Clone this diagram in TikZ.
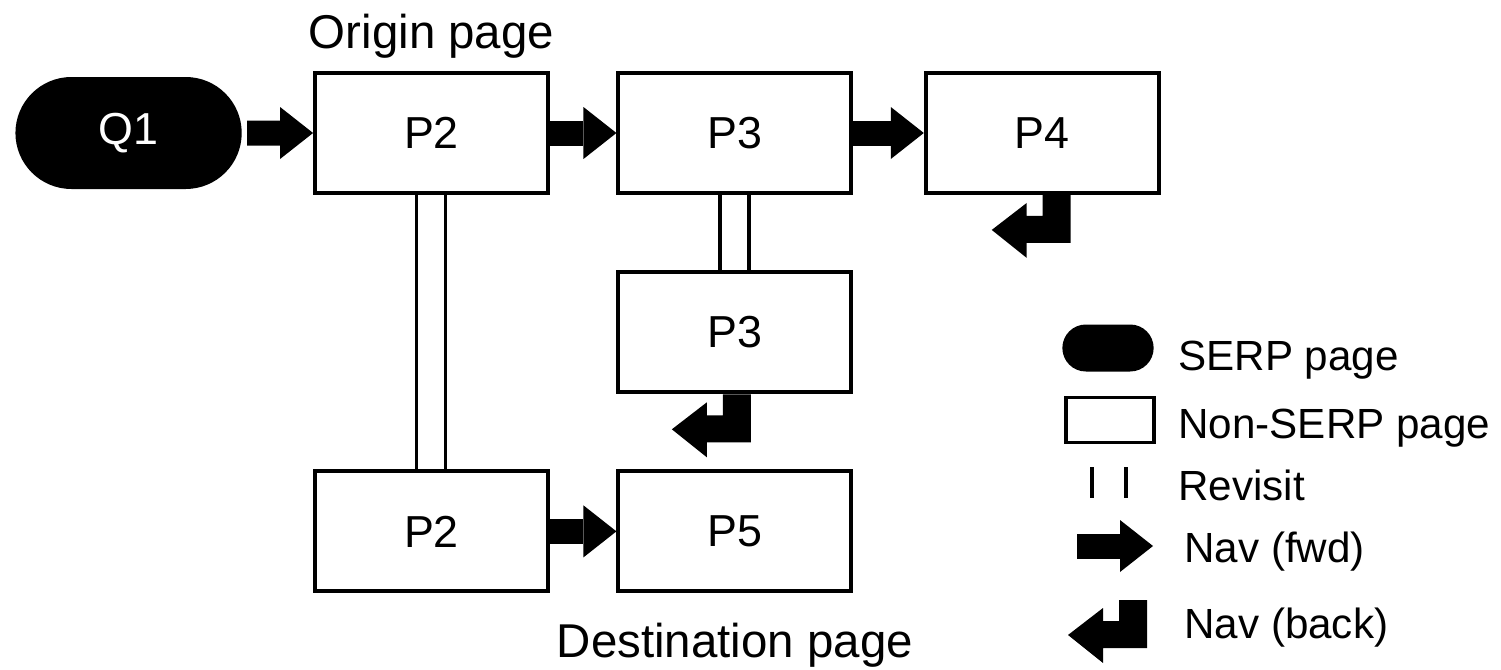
\documentclass[tikz,border=0pt]{standalone}
\usepackage{fontspec}
\setmainfont{Liberation Sans}
\usetikzlibrary{arrows.meta,positioning,shapes.misc}
% bent "back" arrow hanging from a point (top right corner of its stem)
\newcommand{\navback}[1]{\fill (#1) -- ++(0,-0.96) -- ++(-0.88,0) -- ++(0,-0.30) -- ++(-0.70,0.56)
  -- ++(0.70,0.54) -- ++(0,-0.26) -- ++(0.32,0) -- ++(0,0.42) -- cycle;}

\begin{document}
\begin{tikzpicture}[
  page/.style={draw,line width=2.2pt,minimum width=4.66cm,minimum height=2.4cm,
    font=\fontsize{25.5}{30}\selectfont},
  serp/.style={rounded rectangle,fill=black,text=white,minimum width=4.76cm,
    minimum height=2.24cm,font=\fontsize{25.5}{30}\selectfont},
  fwd/.style={line width=0.5cm,-{Triangle[length=0.66cm,width=1.04cm,line width=0pt]}},
  revisit/.style={line width=2.2pt},
  tag/.style={inner sep=0pt,font=\fontsize{27}{32}\selectfont},
  legend/.style={anchor=base west,inner sep=0pt,font=\fontsize{24}{28}\selectfont}]
  \useasboundingbox (0,0) rectangle (30.02,13.38);
  % pages of the session
  \node[page] (P2) at (8.63,10.72) {P2};
  \node[serp,left=1.42cm of P2] (Q1) {Q1};
  \node[page,right=1.33cm of P2] (P3) {P3};
  \node[page,right=1.41cm of P3] (P4) {P4};
  \node[page,below=1.51cm of P3] (P3b) {P3};
  \node[page,below=5.49cm of P2] (P2b) {P2};
  \node[page,right=1.33cm of P2b] (P5) {P5};
  % origin / destination
  \node[tag,above=0.24cm of P2] (orig) {Origin page};
  \node[tag,below=0.58cm of P5] (dest) {Destination page};
  % forward navigation
  \draw[fwd,shorten <=0.1cm] (Q1) -- (P2);
  \draw[fwd] (P2) -- (P3);
  \draw[fwd] (P3) -- (P4);
  \draw[fwd] (P2b) -- (P5);
  % revisits
  \foreach \dx in {-0.3,0.28} {
    \draw[revisit] ([xshift=\dx cm]P2.south) -- ([xshift=\dx cm]P2b.north);
    \draw[revisit] ([xshift=\dx cm]P3.south) -- ([xshift=\dx cm]P3b.north);
  }
  % back navigation
  \navback{[xshift=0.57cm]P4.south}
  \navback{[xshift=0.32cm]P3b.south}
  % legend
  \node[rounded rectangle,fill=black,minimum width=2.06cm,minimum height=0.94cm] (kserp) at (22.16,6.42) {};
  \node[draw,line width=2.2pt,minimum width=1.76cm,minimum height=0.9cm] (kpage) at (22.20,4.98) {};
  \draw[revisit] (21.84,4.04) -- (21.84,3.42);
  \draw[revisit] (22.52,4.04) -- (22.52,3.42);
  \coordinate (kf1) at (21.54,2.46);
  \coordinate (kf2) at (23.06,2.46);
  \draw[fwd] (kf1) -- (kf2);
  \navback{22.94,1.38}
  \node[legend] (lserp) at (23.56,5.98) {SERP page};
  \node[legend] (lpage) at (23.56,4.62) {Non-SERP page};
  \node[legend] (lrev) at (23.56,3.38) {Revisit};
  \node[legend] (lfwd) at (23.68,2.14) {Nav (fwd)};
  \node[legend] (lback) at (23.68,0.62) {Nav (back)};
\end{tikzpicture}
\end{document}
